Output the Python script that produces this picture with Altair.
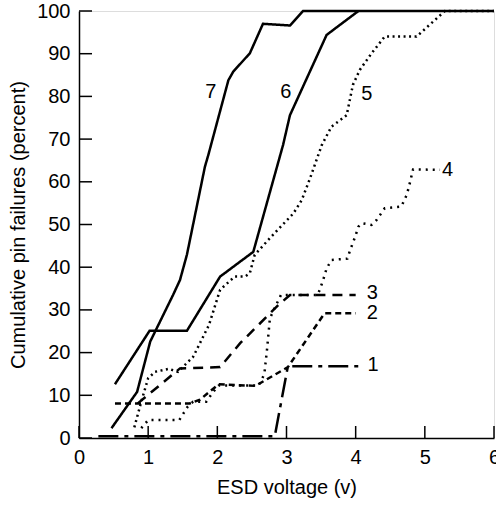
import altair as alt
import pandas as pd

# ---- data ----
s1_x = [0.28, 2.83, 3.02, 4.04]
s1_y = [0.4, 0.4, 16.8, 16.8]

s2_x = [0.52, 1.6, 1.75, 2.02, 2.55, 3.02, 3.55, 4.0]
s2_y = [8.1, 8.1, 9.0, 12.6, 12.2, 16.6, 29.2, 29.2]

s3_x = [0.85, 1.46, 2.04, 2.33, 2.88, 3.05, 4.0]
s3_y = [8.1, 16.3, 16.6, 22.2, 31.1, 33.5, 33.5]

s4_x = [0.9, 1.0, 1.45, 1.57, 1.65, 1.84, 1.94, 2.02, 2.6, 2.68, 2.72, 2.76, 2.83, 2.92,
        3.45, 3.48, 3.53, 3.58, 3.65, 3.88, 3.92, 3.99, 4.04, 4.09, 4.23, 4.3, 4.42, 4.66,
        4.74, 4.78, 4.83, 5.22]
s4_y = [2.3, 4.2, 4.2, 7.3, 8.5, 8.5, 10.8, 12.3, 12.3, 15.0, 21.0, 28.0, 30.5, 33.5,
        33.5, 34.7, 37.0, 39.7, 41.7, 42.0, 44.0, 47.0, 49.5, 50.3, 49.9, 51.0, 53.8, 54.2,
        57.0, 59.5, 62.9, 62.8]

s5_x = [0.8, 0.9, 1.0, 1.1, 1.3, 1.43, 1.65, 1.88, 2.04, 2.25, 2.4, 2.47, 2.54, 2.76, 3.1,
        3.22, 3.34, 3.51, 3.65, 3.87, 3.96, 4.06, 4.23, 4.42, 4.88, 5.29, 6.0]
s5_y = [2.5, 8.5, 14.0, 15.5, 16.2, 15.5, 19.0, 26.5, 34.7, 37.8, 37.8, 38.6, 42.9, 46.8, 52.6,
        55.7, 60.8, 68.6, 72.9, 75.6, 82.7, 86.2, 90.1, 94.0, 94.0, 100, 100]

s6_x = [0.52, 1.02, 1.56, 2.04, 2.52, 2.95, 3.05, 3.58, 4.04]
s6_y = [12.6, 25.1, 25.1, 37.8, 43.6, 68.6, 75.6, 94.4, 100]

s7_x = [0.47, 0.84, 1.03, 1.36, 1.46, 1.56, 1.82, 1.87, 2.16, 2.23, 2.47, 2.66, 3.05, 3.24, 6.0]
s7_y = [2.3, 10.8, 22.6, 33.5, 37.0, 42.9, 63.5, 66.3, 83.8, 85.8, 90.1, 97.0, 96.6, 100, 100]

labels = ["1", "2", "3", "4", "5", "6", "7"]
label_x = [4.25, 4.24, 4.24, 5.33, 4.16, 2.99, 1.905]
label_y = [17.1, 29.3, 33.9, 62.8, 80.6, 81.0, 81.0]

x_ticks = [0, 1, 2, 3, 4, 5, 6]
y_ticks = [0, 10, 20, 30, 40, 50, 60, 70, 80, 90, 100]

series = [(s1_x, s1_y), (s2_x, s2_y), (s3_x, s3_y), (s4_x, s4_y),
          (s5_x, s5_y), (s6_x, s6_y), (s7_x, s7_y)]
dashes = [[20, 6, 4, 6], [6, 4], [10, 7], [2, 5], [2, 3.5], [1, 0], [1, 0]]

rows = []
for name, (xs, ys) in zip(labels, series):
    for i, (a, b) in enumerate(zip(xs, ys)):
        rows.append({"s": name, "i": i, "x": a, "y": b})
df = pd.DataFrame(rows)

W, H = 415, 427
FONT = "Liberation Sans"

xscale = alt.Scale(domain=[0, 6], nice=False, zero=False)
yscale = alt.Scale(domain=[0, 100], nice=False, zero=False)

xaxis = alt.Axis(values=x_ticks, tickSize=0, labelPadding=9, labelFontSize=20,
                 labelFont=FONT, titleFont=FONT, titleFontSize=20, titleFontWeight="normal",
                 titlePadding=10, labelColor="black", titleColor="black",
                 domainColor="black", domainWidth=1.5, grid=False, labelFlush=False,
                 labelOverlap=False)
yaxis = alt.Axis(values=y_ticks, tickSize=0, labelPadding=9, labelFontSize=20,
                 labelFont=FONT, titleFont=FONT, titleFontSize=20, titleFontWeight="normal",
                 titlePadding=8, labelColor="black", titleColor="black",
                 domainColor="black", domainWidth=1.5, grid=False, labelFlush=False,
                 labelOverlap=False)

X = alt.X("x:Q", scale=xscale, axis=xaxis, title="ESD voltage (v)")
Y = alt.Y("y:Q", scale=yscale, axis=yaxis, title="Cumulative pin failures (percent)")

lines = alt.Chart(df).mark_line(color="black", strokeWidth=2.5).encode(
    x=X, y=Y,
    detail="s:N",
    order="i:Q",
    strokeDash=alt.StrokeDash("s:N", scale=alt.Scale(domain=labels, range=dashes), legend=None),
)

lab_df = pd.DataFrame({"x": label_x, "y": label_y, "t": labels})
texts = alt.Chart(lab_df).mark_text(fontSize=20, font=FONT, color="black",
                                    align="center", baseline="middle").encode(
    x=X, y=Y, text="t:N")

xt_df = pd.DataFrame({"x": x_ticks})
xt = alt.Chart(xt_df).mark_rule(color="black", strokeWidth=1.5).encode(
    x=X, y=alt.value(H), y2=alt.value(H - 12))

yt_df = pd.DataFrame({"y": y_ticks})
yt = alt.Chart(yt_df).mark_rule(color="black", strokeWidth=1.5).encode(
    y=Y, x=alt.value(0), x2=alt.value(13))

chart = alt.layer(lines, texts, xt, yt).properties(
    width=W, height=H,
    autosize=alt.AutoSizeParams(type="none"),
    padding={"left": 79, "top": 11, "right": 2, "bottom": 67},
).configure_view(stroke=None).configure(background="white")

page_css = ("html,body{margin:0;padding:0;overflow:hidden}"
            ".vega-embed{display:block}.vega-embed svg{display:block}")

chart.save("out.html", embed_options={"renderer": "svg", "actions": False,
                                      "defaultStyle": page_css})
